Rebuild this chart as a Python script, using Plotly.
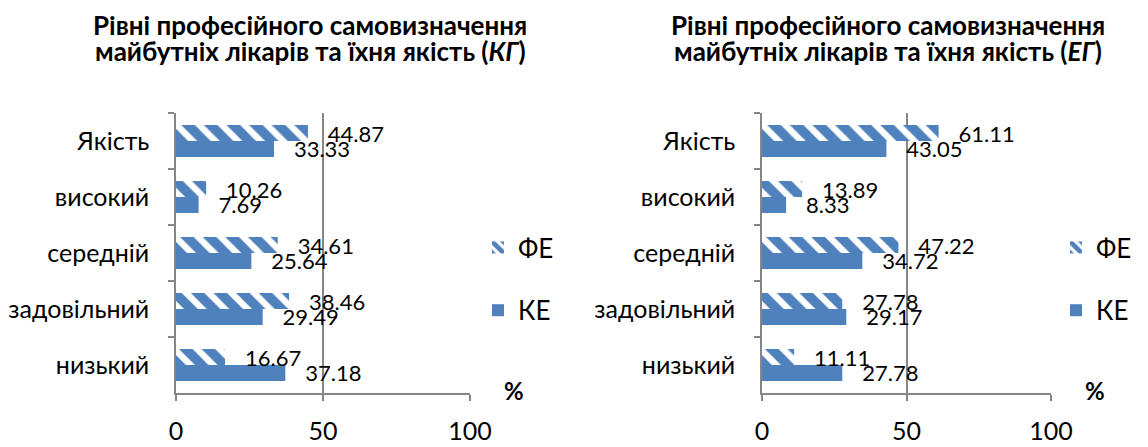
import plotly.graph_objects as go

categories = ["низький", "задовільний", "середній", "високий", "Якість"]
kg_ke = [37.18, 29.49, 25.64, 7.69, 33.33]
kg_fe = [16.67, 38.46, 34.61, 10.26, 44.87]
eg_ke = [27.78, 29.17, 34.72, 8.33, 43.05]
eg_fe = [11.11, 27.78, 47.22, 13.89, 61.11]
x_ticks = [0, 50, 100]
title_line1 = "Рівні професійного самовизначення"
title_line2_kg = "майбутніх лікарів та їхня якість (<i>КГ</i>)"
title_line2_eg = "майбутніх лікарів та їхня якість (<i>ЕГ</i>)"

W, H = 1148, 447
BLUE = "#4F81BD"
GRID = "#868686"
FONT = "Lato"
pad = "\u00a0\u00a0\u00a0"

fig = go.Figure()

def add_pair(ke, fe, xa, ya, leg):
    fig.add_trace(go.Bar(
        y=categories, x=ke, orientation="h", name="КЕ",
        marker=dict(color=BLUE, line=dict(width=0)),
        text=[pad + f"{v:.2f}" for v in ke], textposition="outside",
        textfont=dict(family=FONT, size=22, color="black"),
        constraintext="none", cliponaxis=False,
        xaxis=xa, yaxis=ya, legend=leg, legendgroup=leg + "ke", legendrank=2,
    ))
    fig.add_trace(go.Bar(
        y=categories, x=fe, orientation="h", name="ФЕ",
        marker=dict(color="white", line=dict(width=0),
                    pattern=dict(shape="\\", fgcolor=BLUE, bgcolor="white",
                                 size=16, solidity=0.6, fillmode="replace")),
        text=[pad + f"{v:.2f}" for v in fe], textposition="outside",
        textfont=dict(family=FONT, size=22, color="black"),
        constraintext="none", cliponaxis=False,
        xaxis=xa, yaxis=ya, legend=leg, legendgroup=leg + "fe", legendrank=1,
    ))

add_pair(kg_ke, kg_fe, "x", "y", "legend")
add_pair(eg_ke, eg_fe, "x2", "y2", "legend2")

ybot = 1 - 393 / H
ytop = 1 - 113 / H

xcommon = dict(range=[0, 100], tickvals=x_ticks, showgrid=True, gridcolor=GRID, gridwidth=1.5,
               showline=True, linecolor=GRID, linewidth=1.5, ticks="outside", ticklen=6,
               tickcolor=GRID, tickwidth=1.5, zeroline=False,
               tickfont=dict(family=FONT, size=25, color="black"), ticklabelstandoff=9,
               fixedrange=True, automargin=False)
ycommon = dict(showline=True, linecolor=GRID, linewidth=1.5, ticks="outside", ticklen=6,
               tickcolor=GRID, tickwidth=1.5, tickson="boundaries", showgrid=False,
               tickfont=dict(family=FONT, size=25, color="black"), ticklabelstandoff=20,
               fixedrange=True, automargin=False)

legcommon = dict(traceorder="grouped", tracegroupgap=26,
                 font=dict(family=FONT, size=26, color="black"),
                 bgcolor="rgba(0,0,0,0)", xanchor="left", yanchor="middle")

def ann(text, xpx, ypx, size, bold=True):
    return dict(text=(f"<b>{text}</b>" if bold else text), x=xpx / W, y=1 - ypx / H,
                xref="paper", yref="paper", xanchor="center", yanchor="middle",
                showarrow=False, font=dict(family=FONT, size=size, color="black"))

fig.update_layout(
    width=W, height=H, margin=dict(l=0, r=0, t=0, b=0, autoexpand=False), autosize=False,
    paper_bgcolor="white", plot_bgcolor="white",
    barmode="group", bargap=0.43, bargroupgap=0,
    xaxis=dict(domain=[176 / W, 470 / W], anchor="y", **xcommon),
    yaxis=dict(domain=[ybot, ytop], anchor="x", **ycommon),
    xaxis2=dict(domain=[762 / W, 1051 / W], anchor="y2", **xcommon),
    yaxis2=dict(domain=[ybot, ytop], anchor="x2", **ycommon),
    legend=dict(x=478 / W, y=1 - 279 / H, **legcommon),
    legend2=dict(x=1056 / W, y=1 - 279 / H, **legcommon),
    showlegend=True,
    font=dict(family=FONT),
    annotations=[
        ann(title_line1, 310, 25, 26),
        ann(title_line2_kg, 310, 51, 26),
        ann(title_line1, 888, 25, 26),
        ann(title_line2_eg, 888, 51, 26),
        ann("%", 514, 390, 24),
        ann("%", 1095, 390, 24),
    ],
)

fig.write_html(
    "out.html",
    config={"displayModeBar": False, "responsive": False},
    post_script="document.documentElement.style.overflow='hidden';"
                "document.body.style.overflow='hidden';document.body.style.margin='0';",
)
